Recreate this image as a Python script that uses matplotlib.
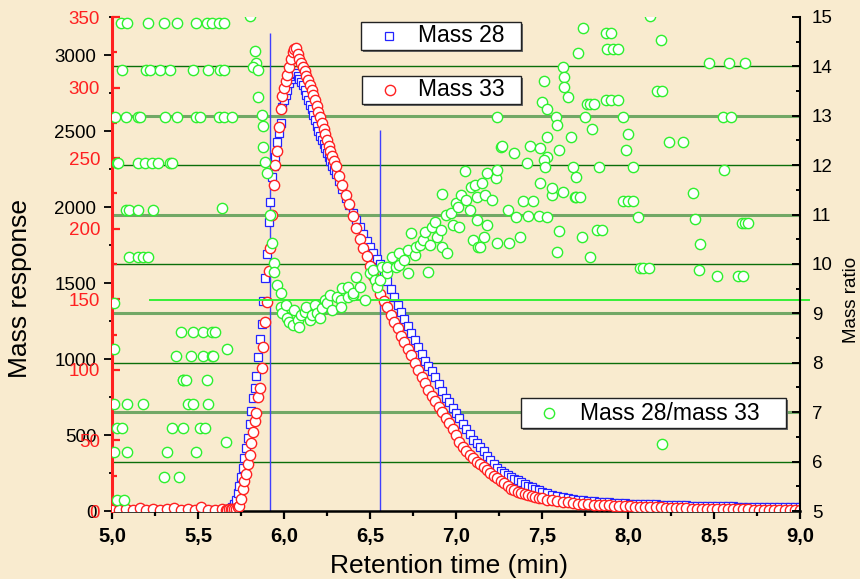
import numpy as np
import matplotlib
matplotlib.use('Agg')
import matplotlib.pyplot as plt
from matplotlib.patches import Rectangle
from matplotlib.lines import Line2D
from matplotlib.ticker import MultipleLocator

plt.rcParams['font.family'] = ['Liberation Sans', 'DejaVu Sans']

BG = '#f9ebcf'
BLUE = '#2323ff'
RED = '#ff2020'
GREEN = '#2ef02e'
GRID_DARK = '#0b6e0b'
GRID_LIGHT = '#72a866'

W, H = 860, 579

# retention time grid (min): coarse baseline, fine across the peak, coarser tail
time = np.concatenate([
    np.arange(5.00, 5.65, 0.04),
    np.arange(5.66, 6.305, 0.01),
    np.arange(6.32, 7.505, 0.02),
    np.arange(7.53, 9.005, 0.03),
])

# mass 28 response (left black scale)
mass28 = np.array([
    6, 5, 7, 4, 6, 5, 8, 6, 5, 7, 6, 5, 6, 7, 6, 7, 8,
    9, 11, 13, 17, 28, 45, 75, 120, 165, 222,
    285, 350, 414, 480, 571, 661, 743, 810, 890, 1010,
    1130, 1230, 1380, 1533, 1690, 1900, 2035, 2198, 2270, 2330,
    2430, 2490, 2550, 2660, 2705, 2740, 2770, 2815, 2845, 2862,
    2878, 2880, 2862, 2845, 2825, 2800, 2770, 2735, 2705, 2672,
    2648, 2608, 2572, 2535, 2497, 2467, 2440, 2412, 2385, 2356,
    2328, 2300, 2272, 2245, 2218,
    2170, 2120, 2062, 2010, 1960, 1912, 1866, 1820, 1775, 1740,
    1700, 1660, 1622, 1570, 1516, 1462, 1410, 1355, 1308, 1262,
    1215, 1168, 1122, 1080, 1030, 990, 955, 918, 880, 835,
    790, 745, 715, 680, 645, 610, 575, 540, 505, 470,
    445, 421, 392, 364, 334, 312, 286, 266, 252, 238,
    224, 213, 202, 190, 178, 167, 157, 147, 136, 127,
    116, 106, 97, 89, 83, 78, 74, 70, 67, 64,
    60, 58, 56, 54, 52, 50, 49, 47, 46, 45,
    44, 43, 42, 41, 40, 39, 38, 37, 36, 35,
    34, 33, 32, 32, 31, 30, 30, 29, 29, 28,
    28, 27, 27, 27, 26, 26, 26, 25, 25, 25,
])

# mass 33 response (left red scale)
mass33 = np.array([
    0.9, 0.6, 1.2, 0.8, 2.4, 0.7, 1.3, 0.9, 1.1, 2.2, 0.8, 1.4, 0.9, 2.6, 1.0, 0.8, 1.1,
    0.8, 1.0, 1.1, 1.2, 1.3, 1.4, 1.6, 2.5, 3.8, 8.5,
    15.5, 21, 26.5, 33, 40, 48.5, 56, 64, 69.5, 80.5,
    87, 101, 116, 134, 148, 170, 186, 210, 231, 245,
    255, 272, 285, 294, 300, 304.5, 309, 314.5, 320, 325.5,
    327.5, 328, 323.5, 320.5, 317.5, 314.5, 311.5, 308.5, 305.4, 301.8,
    298.3, 294.8, 291.3, 287, 283, 278.8, 274.8, 271, 267, 262.8,
    258.7, 254.9, 251.4, 248, 244.5,
    237.5, 230.8, 224, 217.5, 208.7, 200.8, 192.8, 186.5, 181, 173.5,
    166.2, 160, 154, 149, 144.4, 139, 133.8, 129.7, 124.3, 119.8,
    115, 110.3, 105, 99.8, 95, 90.5, 86, 81.5, 77.7, 74,
    70.1, 66.2, 62, 58, 54, 48.8, 45.6, 42.5, 39.8, 37.5,
    35, 33, 30.9, 29, 27, 25.1, 23.2, 21.4, 19.5, 17.6,
    15.8, 14.6, 13.6, 12.7, 12.0, 11.3, 10.6, 10.0, 9.5, 9.0,
    8.1, 7.5, 7.0, 6.5, 6.1, 5.7, 5.3, 5.0, 4.8, 4.6,
    4.3, 4.1, 3.9, 3.8, 3.6, 3.4, 3.3, 3.1, 3.0, 2.9,
    2.8, 2.6, 2.5, 2.3, 2.1, 2.0, 1.9, 1.8, 1.7, 1.6,
    1.6, 1.5, 1.4, 1.4, 1.3, 1.3, 1.2, 1.2, 1.1, 1.1,
    1.0, 1.0, 1.0, 0.9, 0.9, 0.9, 0.8, 0.8, 0.8, 0.7,
])

# mass 28 / mass 33 ratio, (time, ratio) pairs
ratio_baseline = [
    (5.05, 14.88), (5.09, 14.88), (5.21, 14.88), (5.30, 14.88), (5.38, 14.88),
    (5.49, 14.88), (5.55, 14.88), (5.58, 14.88), (5.62, 14.88), (5.65, 14.88),
    (5.80, 15.02),
    (5.06, 13.93), (5.20, 13.93), (5.22, 13.93), (5.28, 13.93), (5.34, 13.93),
    (5.47, 13.93), (5.56, 13.93), (5.63, 13.93), (5.65, 13.93),
    (5.02, 12.98), (5.08, 12.98), (5.15, 12.98), (5.16, 12.98), (5.31, 12.98),
    (5.38, 12.98), (5.49, 12.98), (5.51, 12.98), (5.62, 12.98), (5.65, 12.98),
    (5.70, 12.98),
    (5.03, 12.04), (5.035, 12.04), (5.15, 12.04), (5.19, 12.04), (5.23, 12.04),
    (5.27, 12.04), (5.34, 12.04), (5.35, 12.04),
    (5.08, 11.09), (5.10, 11.09), (5.15, 11.09), (5.24, 11.09), (5.64, 11.13),
    (5.10, 10.14), (5.15, 10.14), (5.18, 10.14), (5.21, 10.14),
    (5.01, 9.21), (5.01, 8.28),
    (5.40, 8.62), (5.47, 8.62), (5.53, 8.62), (5.58, 8.62), (5.60, 8.62),
    (5.37, 8.14), (5.46, 8.14), (5.53, 8.14), (5.58, 8.14), (5.59, 8.14), (5.67, 8.28),
    (5.41, 7.65), (5.415, 7.65), (5.43, 7.65), (5.55, 7.65),
    (5.01, 7.17), (5.09, 7.17), (5.18, 7.17), (5.44, 7.17), (5.47, 7.17), (5.56, 7.17),
    (5.03, 6.68), (5.06, 6.68), (5.35, 6.68), (5.41, 6.68), (5.51, 6.68), (5.54, 6.68),
    (5.66, 6.40),
    (5.01, 6.19), (5.09, 6.19), (5.32, 6.19), (5.49, 6.19),
    (5.30, 5.69), (5.39, 5.69), (5.03, 5.22), (5.07, 5.22),
]

ratio_peak = [
    (5.83, 14.31), (5.84, 14.07), (5.82, 13.99), (5.85, 13.93), (5.85, 13.38),
    (5.87, 13.02), (5.88, 12.80), (5.88, 12.37), (5.89, 12.06), (5.90, 11.84),
    (5.92, 10.99), (5.93, 10.43), (5.94, 10.02), (5.94, 9.84), (5.96, 9.57),
    (5.98, 9.41), (5.98, 9.13), (5.99, 9.01), (6.01, 9.17), (6.02, 8.91),
    (6.03, 8.83), (6.05, 8.77), (6.06, 9.07), (6.08, 8.87), (6.09, 8.72),
    (6.10, 8.97), (6.12, 9.03), (6.13, 9.13), (6.15, 8.87), (6.16, 8.97),
    (6.18, 9.17), (6.19, 9.01), (6.21, 8.91), (6.22, 9.11), (6.24, 9.27),
    (6.25, 9.21), (6.27, 9.37), (6.28, 9.07), (6.31, 9.33), (6.33, 9.27),
    (6.33, 9.13), (6.34, 9.51), (6.37, 9.53), (6.37, 9.33), (6.40, 9.37),
    (6.40, 9.41), (6.42, 9.74), (6.44, 9.53), (6.47, 9.27), (6.50, 9.82),
    (6.52, 9.88), (6.53, 9.68), (6.54, 9.53), (6.56, 9.68), (6.57, 9.94),
    (6.60, 9.82), (6.60, 9.94), (6.63, 10.14), (6.65, 9.94), (6.67, 10.22),
    (6.67, 9.98), (6.70, 10.08), (6.72, 10.28), (6.72, 9.82), (6.74, 10.63),
    (6.76, 10.18), (6.77, 10.34), (6.79, 10.38), (6.81, 10.49), (6.82, 10.65),
    (6.84, 9.84), (6.85, 10.38), (6.86, 10.75), (6.88, 10.85), (6.89, 10.55),
    (6.91, 10.69), (6.92, 11.42), (6.92, 10.34), (6.94, 10.99), (6.95, 10.22),
    (6.97, 11.03), (6.98, 10.79), (7.00, 11.23), (7.01, 11.15), (7.02, 10.75),
    (7.03, 11.40), (7.05, 11.88), (7.06, 11.30), (7.08, 11.09), (7.09, 11.56),
    (7.10, 10.49), (7.11, 11.60), (7.12, 11.36), (7.12, 10.89), (7.13, 10.34),
    (7.14, 10.34), (7.15, 11.64), (7.16, 10.55), (7.17, 11.40), (7.18, 11.84),
    (7.18, 10.79), (7.21, 11.30), (7.23, 11.74), (7.24, 10.43), (7.24, 11.90),
    (7.24, 12.98), (7.26, 12.37), (7.27, 12.39), (7.30, 11.09), (7.31, 10.43),
    (7.34, 12.25), (7.35, 10.95), (7.37, 10.55), (7.39, 11.28), (7.41, 12.04),
    (7.42, 10.97), (7.43, 12.39), (7.45, 11.28), (7.48, 10.97), (7.49, 12.35),
]

ratio_tail = [
    (7.53, 12.17), (7.53, 12.57), (7.53, 10.95), (7.56, 11.40), (7.59, 10.24),
    (7.60, 10.67), (7.60, 12.31), (7.62, 11.46), (7.67, 12.57), (7.68, 11.96),
    (7.69, 11.36), (7.70, 11.36), (7.72, 11.36),
    (7.74, 14.78), (7.87, 14.68), (7.90, 14.68), (7.88, 14.35), (7.91, 14.35),
    (7.94, 14.35), (7.71, 14.27), (8.19, 14.53), (8.13, 15.02), (8.47, 14.07),
    (8.59, 14.07), (8.68, 14.07), (7.62, 13.99), (7.51, 13.70), (7.63, 13.79),
    (7.63, 13.58), (7.65, 13.38), (8.17, 13.50), (8.20, 13.50), (7.50, 13.28),
    (7.53, 13.14), (7.76, 13.24), (7.78, 13.24), (7.80, 13.24), (7.87, 13.32),
    (7.90, 13.32), (7.94, 13.32), (7.58, 12.98), (7.75, 12.98), (7.97, 12.98),
    (8.55, 12.98), (8.60, 12.98), (7.59, 12.81), (7.79, 12.73), (8.00, 12.63),
    (7.99, 12.31), (8.24, 12.47), (8.32, 12.47), (7.51, 12.11), (7.52, 11.96),
    (7.83, 11.96), (8.03, 11.96), (8.56, 11.90), (7.70, 11.76), (7.49, 11.64),
    (7.56, 11.54), (8.38, 11.44), (7.97, 11.28), (8.00, 11.28), (8.03, 11.28),
    (8.06, 10.95), (8.39, 10.91), (8.66, 10.83), (8.68, 10.83), (8.70, 10.83),
    (7.82, 10.69), (7.85, 10.69), (7.73, 10.55), (8.42, 10.40), (7.78, 10.14),
    (8.07, 9.92), (8.09, 9.92), (8.12, 9.92), (8.41, 9.88), (8.52, 9.76),
    (8.64, 9.76), (8.67, 9.76), (8.20, 6.36),
]

# peak window markers (time, top on mass 28 scale)
marker_times = [5.92, 6.56]
marker_tops = [3145, 2507]

ratio_levels = [6, 7, 8, 9, 10, 11, 12, 13, 14]
guide_level = 9.27
guide_span = [5.22, 9.05]

fig = plt.figure(figsize=(W / 100, H / 100), dpi=100)
fig.patch.set_facecolor(BG)

ax = fig.add_axes([112 / W, 1 - 511 / H, 688 / W, 494 / H])
ax.set_facecolor('none')
ax33 = ax.twinx()
axq = ax.twinx()

# ratio grid, drawn under the data
for lvl in ratio_levels:
    odd = lvl % 2 == 1
    ax.plot([5, 9], [lvl, lvl], transform=axq.transData,
            color=GRID_LIGHT if odd else GRID_DARK, lw=2.2 if odd else 1.0, zorder=1)

ax.vlines(marker_times, 0, marker_tops, color='#3f3fff', lw=1.0, zorder=2)

ax.plot(time, mass28, ls='none', marker='s', ms=5.8, mfc='white', mec=BLUE, mew=0.9, zorder=3)
ax33.plot(time, mass33, ls='none', marker='o', ms=7.4, mfc='white', mec=RED, mew=1.0, zorder=3)

for group in (ratio_baseline, ratio_peak, ratio_tail):
    t, r = np.array(group).T
    axq.plot(t, r, ls='none', marker='o', ms=7.4, mfc='white', mec=GREEN, mew=1.0, zorder=3)

axq.plot(guide_span, [guide_level, guide_level], color='#36f036', lw=1.4, clip_on=False, zorder=2)

# axes ranges
ax.set_xlim(5, 9)
ax.set_ylim(0, 3250)
ax33.set_ylim(0, 350)
axq.set_ylim(5, 15)

# x axis
x_ticks = np.arange(5.0, 9.01, 0.5)
ax.set_xticks(x_ticks, [f'{v:.1f}'.replace('.', ',') for v in x_ticks],
              fontsize=14.5, fontweight='bold')
ax.xaxis.set_minor_locator(MultipleLocator(0.25))
ax.tick_params(axis='x', which='major', direction='out', length=5.8, width=1.6, pad=5.5)
ax.tick_params(axis='x', which='minor', direction='out', length=3.6, width=1.6)

# black mass scale
ax.yaxis.set_minor_locator(MultipleLocator(250))
ax.set_yticks(np.arange(0, 3001, 500))
ax.tick_params(axis='y', which='major', direction='out', length=5.8, width=1.3, pad=5.5,
               labelsize=13.5)
ax.tick_params(axis='y', which='minor', direction='out', length=2.5, width=1.3)

# red mass scale, on the left as well
ax33.yaxis.tick_left()
ax33.yaxis.set_major_locator(MultipleLocator(50))
ax33.yaxis.set_minor_locator(MultipleLocator(25))
ax33.tick_params(axis='y', which='major', direction='in', length=5.8, width=1.6, pad=8.6,
                 color=RED, labelcolor=RED, labelsize=13.5)
ax33.tick_params(axis='y', which='minor', direction='in', length=3.6, width=1.6, color=RED)

# ratio scale
axq.yaxis.set_major_locator(MultipleLocator(1))
axq.yaxis.set_minor_locator(MultipleLocator(0.5))
axq.tick_params(axis='y', which='major', direction='in', length=5.8, width=1.4, pad=8.6,
                labelsize=13.5)
axq.tick_params(axis='y', which='minor', direction='in', length=2.9, width=1.4)

for s in ('left', 'right', 'top'):
    ax.spines[s].set_visible(False)
ax.spines['bottom'].set_linewidth(1.8)
for s in ('right', 'top', 'bottom'):
    ax33.spines[s].set_visible(False)
ax33.spines['left'].set_color(RED)
ax33.spines['left'].set_linewidth(2.2)
for s in ('left', 'top', 'bottom'):
    axq.spines[s].set_visible(False)
axq.spines['right'].set_linewidth(1.5)

fig.text(20 / W, 1 - 288 / H, 'Mass response', rotation=90, ha='center', va='center',
         fontsize=19)
fig.text(449 / W, 1 - 566 / H, 'Retention time (min)', ha='center', va='center', fontsize=19)
fig.text(851 / W, 1 - 300 / H, 'Mass ratio', rotation=90, ha='center', va='center',
         fontsize=13.5)


def key_box(x0, y0, x1, y1, mx, tx, label, **mstyle):
    # white key box with a small drop shadow, in pixel coords
    shadow = Rectangle(((x0 + 2) / W, 1 - (y1 + 2) / H), (x1 - x0) / W, (y1 - y0) / H,
                       transform=fig.transFigure, facecolor='#6b6b6b', edgecolor='none',
                       zorder=10)
    box = Rectangle((x0 / W, 1 - y1 / H), (x1 - x0) / W, (y1 - y0) / H,
                    transform=fig.transFigure, facecolor='white', edgecolor='#222222',
                    lw=1.0, zorder=11)
    fig.add_artist(shadow)
    fig.add_artist(box)
    cy = (y0 + y1) / 2
    fig.add_artist(Line2D([mx / W], [1 - cy / H], transform=fig.transFigure, ls='none',
                          mfc='white', zorder=12, **mstyle))
    fig.text(tx / W, 1 - cy / H, label, ha='left', va='center', fontsize=16.5, zorder=12)


key_box(361, 22, 521, 50, 389, 418, 'Mass 28', marker='s', ms=5.8, mec=BLUE, mew=0.9)
key_box(362, 76, 521, 104, 390, 418, 'Mass 33', marker='o', ms=7.4, mec=RED, mew=1.0)
key_box(521, 398, 786, 428, 549, 580, 'Mass 28/mass 33', marker='o', ms=7.4, mec=GREEN,
        mew=1.0)

fig.savefig('out.png', dpi=100, facecolor=BG)
